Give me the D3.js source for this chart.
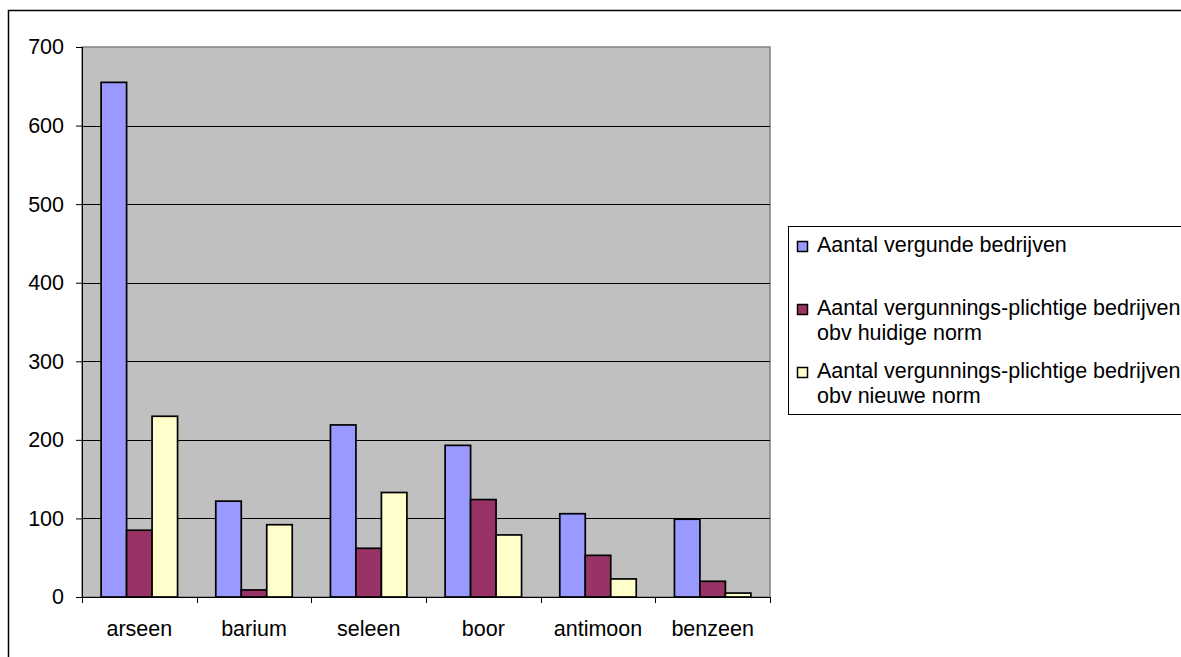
<!DOCTYPE html>
<html>

<head>
    <meta charset="utf-8">
    <style>
        body {
            margin: 0;
            background: #fff;
            font-family: Arial, 'Liberation Sans', sans-serif;
        }

        svg {
            display: block;
        }

        .y .domain,
        .x .domain {
            stroke: #000;
        }

        .y .tick text,
        .x .tick text {
            font-size: 21.5px;
            fill: #000;
            font-family: Arial, 'Liberation Sans', sans-serif;
        }

        .legend text {
            font-size: 21.5px;
            fill: #000;
        }
    </style>
</head>

<body>
    <svg width="1181" height="657"></svg>
</body>

<script src="https://d3js.org/d3.v7.min.js"></script>

<script>
    let categories = ["arseen", "barium", "seleen", "boor", "antimoon", "benzeen"]
    let vergund = [655, 122, 219, 193, 106, 99]
    let huidigeNorm = [85, 9, 62, 124, 53, 20]
    let nieuweNorm = [230, 92, 133, 79, 23, 5]
    let seriesNames = [
        ["Aantal vergunde bedrijven"],
        ["Aantal vergunnings-plichtige bedrijven", "obv huidige norm"],
        ["Aantal vergunnings-plichtige bedrijven", "obv nieuwe norm"]
    ]
    let yTicks = [0, 100, 200, 300, 400, 500, 600, 700]

    let colors = ["#9999ff", "#993366", "#ffffcc"]
    let seriesValues = [vergund, huidigeNorm, nieuweNorm]

    let svg = d3.select("svg")

    let margin = { top: 47, right: 411, bottom: 60, left: 82 }
    let width = 1181
    let height = 657

    // outer chart border (right / bottom run off the picture)
    svg.append("rect")
        .attr("x", 8.5)
        .attr("y", 10.5)
        .attr("width", 1300)
        .attr("height", 800)
        .style("fill", "none")
        .style("stroke", "#000")
        .style("stroke-width", "1.5px")

    let x0 = d3.scaleBand()
        .domain(categories)
        .range([margin.left, width - margin.right])

    let barW = x0.bandwidth() / 4.5

    let x1 = d3.scaleBand()
        .domain([0, 1, 2])
        .range([barW * 0.75, x0.bandwidth() - barW * 0.75])

    let y = d3.scaleLinear()
        .domain([0, 700])
        .range([height - margin.bottom, margin.top])

    // plot area
    svg.append("rect")
        .attr("x", margin.left)
        .attr("y", y(700))
        .attr("width", width - margin.right - margin.left)
        .attr("height", y(0) - y(700))
        .style("fill", "#c0c0c0")
        .style("stroke", "#808080")
        .style("stroke-width", "1.5px")

    // gridlines
    svg.append("g")
        .selectAll("line")
        .data(yTicks.filter(d => d > 0 && d < 700))
        .join("line")
        .attr("x1", margin.left)
        .attr("x2", width - margin.right)
        .attr("y1", d => Math.round(y(d)) + 0.5)
        .attr("y2", d => Math.round(y(d)) + 0.5)
        .style("stroke", "#000")
        .style("stroke-width", "1px")

    // bars
    let rows = categories.map((c, i) => ({ cat: c, vals: seriesValues.map(s => s[i]) }))

    svg.append("g")
        .selectAll("g")
        .data(rows)
        .join("g")
        .attr("transform", d => `translate(${x0(d.cat)},0)`)
        .selectAll("rect")
        .data(d => d.vals.map((v, k) => ({ k: k, v: v })))
        .join("rect")
        .attr("x", d => x1(d.k))
        .attr("y", d => y(d.v))
        .attr("width", x1.bandwidth())
        .attr("height", d => y(0) - y(d.v))
        .style("fill", d => colors[d.k])
        .style("stroke", "#000")
        .style("stroke-width", "1.7px")

    let yAxisSettings = d3.axisLeft(y)
        .tickValues(yTicks)
        .tickSize(6)
        .tickPadding(12)

    svg.append("g")
        .attr("class", "y axis")
        .attr("transform", `translate(${margin.left},0)`)
        .call(yAxisSettings)
        .call(g => g.select(".domain").attr("d", `M0.5,${y(700)}V${y(0)}`))

    let xAxisSettings = d3.axisBottom(x0)
        .tickSize(0)
        .tickPadding(24)

    let xAxis = svg.append("g")
        .attr("class", "x axis")
        .attr("transform", `translate(0,${y(0)})`)
        .call(xAxisSettings)
    xAxis.select(".domain").attr("d", `M${margin.left},0.5H${width - margin.right}`)

    // tick marks at category boundaries
    xAxis.append("g")
        .selectAll("line")
        .data(categories.map(c => x0(c)).concat([x0.range()[1]]))
        .join("line")
        .attr("x1", d => Math.round(d) + 0.5)
        .attr("x2", d => Math.round(d) + 0.5)
        .attr("y1", 0)
        .attr("y2", 6)
        .style("stroke", "#000")

    // legend
    let legend = svg.append("g").attr("class", "legend")

    legend.append("rect")
        .attr("x", 788.5)
        .attr("y", 226.5)
        .attr("width", 500)
        .attr("height", 188)
        .style("fill", "#fff")
        .style("stroke", "#000")
        .style("stroke-width", "1px")

    let legendY = [252, 315, 378]

    let items = legend.selectAll(".item")
        .data(seriesNames)
        .join("g")
        .attr("class", "item")
        .attr("transform", (d, i) => `translate(797,${legendY[i]})`)

    items.append("rect")
        .attr("x", 0.5)
        .attr("y", -10.5)
        .attr("width", 10)
        .attr("height", 10)
        .style("fill", (d, i) => colors[i])
        .style("stroke", "#000")
        .style("stroke-width", "1.5px")

    items.selectAll("text")
        .data(d => d)
        .join("text")
        .attr("x", 20)
        .attr("y", (d, j) => j * 25)
        .text(d => d)
</script>

</html>
